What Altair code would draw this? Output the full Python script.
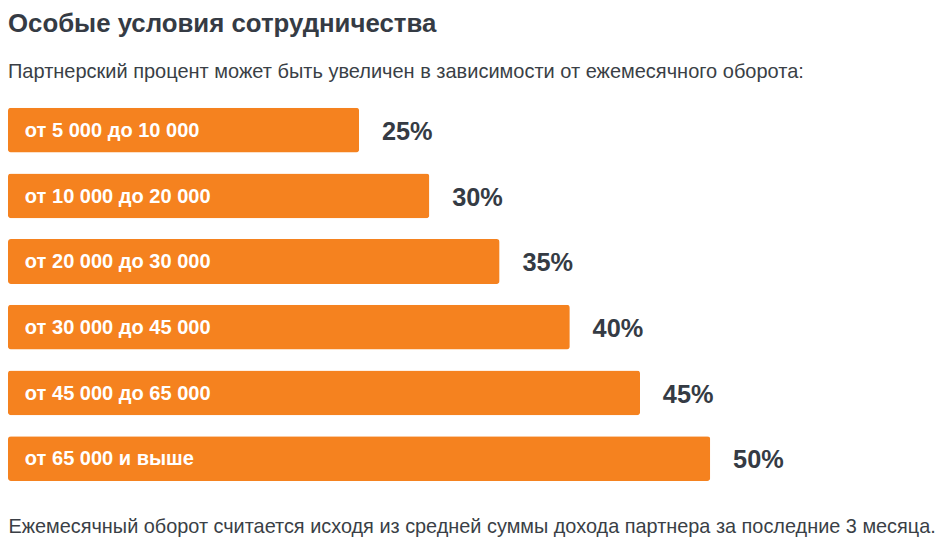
import altair as alt
import pandas as pd

ranges = [
    "от 5 000 до 10 000",
    "от 10 000 до 20 000",
    "от 20 000 до 30 000",
    "от 30 000 до 45 000",
    "от 45 000 до 65 000",
    "от 65 000 и выше",
]
percents = [25, 30, 35, 40, 45, 50]

title_text = "Особые условия сотрудничества"
subtitle_text = "Партнерский процент может быть увеличен в зависимости от ежемесячного оборота:"
footer_text = "Ежемесячный оборот считается исходя из средней суммы дохода партнера за последние 3 месяца."

df = pd.DataFrame({"range": ranges, "pct": percents})

FONT = "Liberation Sans"
ORANGE = "#F5821F"
DARK = "#353b44"

y_enc = alt.Y("range:N", sort=None, axis=None,
              scale=alt.Scale(paddingInner=0.318, paddingOuter=0.159))
x_scale = alt.Scale(domain=[0, 65.58], nice=False, zero=True)

base = alt.Chart(df)

bars = base.mark_bar(color=ORANGE, cornerRadius=3).encode(
    x=alt.X("pct:Q", scale=x_scale,
            axis=alt.Axis(title=footer_text, labels=False, ticks=False, domain=False,
                          grid=False, titleAnchor="start", titleAlign="left",
                          titleBaseline="alphabetic", titlePadding=41,
                          titleFont=FONT, titleFontSize=20.05, titleFontWeight="normal",
                          titleColor="#3a3f46")),
    y=y_enc,
)

inner = base.mark_text(align="left", baseline="middle", dx=17, dy=1, font=FONT,
                       fontSize=20.2, fontWeight="bold", color="white").encode(
    x=alt.datum(0),
    y=y_enc,
    text="range:N",
)

outer = base.transform_calculate(label="datum.pct + '%'").mark_text(
    align="left", baseline="middle", dx=23, dy=2, font=FONT,
    fontSize=25.5, fontWeight="bold", color=DARK).encode(
    x=alt.X("pct:Q", scale=x_scale),
    y=y_enc,
    text="label:N",
)

chart = alt.layer(bars, inner, outer).properties(
    width=928,
    height=397,
    padding={"top": 0, "left": 0, "right": 0, "bottom": 0},
    title=alt.TitleParams(
        text=title_text,
        subtitle=subtitle_text,
        anchor="start",
        font=FONT,
        fontSize=26,
        fontWeight="bold",
        color=DARK,
        subtitleFont=FONT,
        subtitleFontSize=20.15,
        subtitleColor="#3a3f46",
        subtitlePadding=26,
        offset=15,
    ),
).configure_view(stroke=None)

chart.save("out.html", embed_options={"renderer": "svg", "actions": False})
